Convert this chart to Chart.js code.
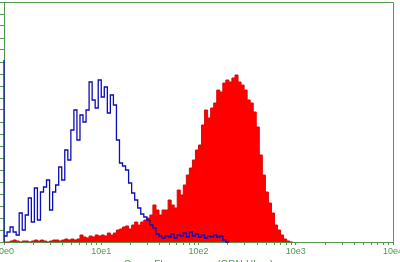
<!DOCTYPE html>
<html>
<head>
<meta charset="utf-8">
<script src="https://cdn.jsdelivr.net/npm/chart.js@4"></script>
<style>
  html, body { margin: 0; padding: 0; background: #fff; overflow: hidden; }
  #wrap { position: relative; width: 400px; height: 272px; }
</style>
</head>
<body>
<div id="wrap"><canvas id="histogram"></canvas></div>
<script>
// histogram: 8 channels per bin, 1024 channels over 4 log decades
const BIN_WIDTH = 8;
const CHANNEL_MAX = 1024;
const DECADE_LABELS = ["10e0", "10e1", "10e2", "10e3", "10e4"];
const AXIS_TITLE = "Green Fluorescence (GRN-HLog)";

// control sample (blue outline)
const controlCounts = [
  182, 6, 10, 15, 10, 7, 29, 12, 27, 44,
  20, 54, 22, 50, 55, 62, 32, 50, 57, 75,
  62, 92, 82, 112, 132, 102, 127, 120, 132, 160,
  142, 134, 162, 145, 155, 129, 147, 137, 102, 79,
  76, 72, 59, 49, 42, 34, 28, 25, 22, 17,
  14, 8, 6, 4, 6, 5, 8, 4, 7, 6,
  9, 5, 10, 6, 8, 5, 7, 4, 6, 5,
  7, 5, 6, 2,
];

// stained sample (red filled)
const stainedCounts = [
  0, 0, 0, 1, 2, 1, 0, 1, 1, 0,
  1, 2, 1, 2, 1, 0, 1, 2, 2, 1,
  2, 3, 2, 3, 2, 3, 7, 5, 4, 6,
  5, 7, 6, 7, 6, 9, 7, 9, 12, 13,
  15, 16, 13, 17, 20, 17, 20, 22, 24, 27,
  37, 32, 27, 32, 32, 42, 37, 34, 52, 47,
  57, 67, 74, 82, 92, 97, 117, 132, 124, 134,
  139, 152, 150, 159, 162, 160, 164, 167, 160, 157,
  152, 142, 139, 130, 115, 87, 67, 50, 39, 29,
  17, 12, 7, 3, 1,
];

const GREEN = "#4f9a4f";

function toSteps(counts) {
  const points = [{ x: 0, y: 0 }];
  counts.forEach((count, index) => {
    points.push({ x: index * BIN_WIDTH, y: count });
  });
  points.push({ x: counts.length * BIN_WIDTH, y: 0 });
  return points;
}

function xTickValues() {
  const values = [];
  for (let decade = 0; decade < 4; decade++) {
    for (let k = 1; k <= 9; k++) {
      values.push((decade + Math.log10(k)) * (CHANNEL_MAX / 4));
    }
  }
  values.push(CHANNEL_MAX);
  return values;
}

const framePlugin = {
  id: "frame",
  beforeDatasetsDraw(chart) {
    const { ctx, chartArea } = chart;
    ctx.save();
    ctx.strokeStyle = GREEN;
    ctx.lineWidth = 1;
    ctx.beginPath();
    ctx.moveTo(chartArea.left, chartArea.top + 0.5);
    ctx.lineTo(chartArea.right + 0.5, chartArea.top + 0.5);
    ctx.lineTo(chartArea.right + 0.5, chartArea.bottom);
    ctx.stroke();
    ctx.restore();
  },
};

new Chart(document.querySelector("#histogram"), {
  type: "line",
  data: {
    datasets: [
      {
        label: "Control",
        data: toSteps(controlCounts),
        stepped: "after",
        borderColor: "#0c0cb8",
        borderWidth: 1.3,
        pointRadius: 0,
        fill: false,
        clip: 3,
      },
      {
        label: "Stained",
        data: toSteps(stainedCounts),
        stepped: "after",
        borderColor: "#d80808",
        backgroundColor: "#ff0000",
        borderWidth: 1,
        pointRadius: 0,
        fill: "origin",
        clip: 2,
      },
    ],
  },
  options: {
    responsive: true,
    maintainAspectRatio: false,
    animation: false,
    events: [],
    layout: { padding: { top: 2, right: 7, left: 0, bottom: 0 } },
    plugins: {
      legend: { display: false },
      tooltip: { enabled: false },
    },
    scales: {
      x: {
        type: "linear",
        min: 0,
        max: CHANNEL_MAX,
        afterBuildTicks: (scale) => {
          scale.ticks = xTickValues().map((value) => ({ value }));
        },
        afterFit: (scale) => {
          scale.height = 30;
          scale.paddingLeft = 0;
          scale.paddingRight = 0;
        },
        border: { display: true, color: GREEN, width: 1 },
        grid: {
          drawOnChartArea: false,
          drawTicks: true,
          tickLength: 3,
          color: GREEN,
        },
        ticks: {
          autoSkip: false,
          maxRotation: 0,
          padding: 1,
          color: GREEN,
          font: { family: "Liberation Sans, Arial, sans-serif", size: 9 },
          callback: (value) => {
            const step = CHANNEL_MAX / 4;
            const index = Math.round(value / step);
            return Math.abs(value - index * step) < 0.01 ? DECADE_LABELS[index] : "";
          },
        },
        title: {
          display: true,
          text: AXIS_TITLE,
          color: GREEN,
          font: { family: "Liberation Sans, Arial, sans-serif", size: 10 },
          padding: { top: 0, bottom: 1 },
        },
      },
      y: {
        min: 0,
        max: 240,
        afterFit: (scale) => {
          scale.width = 4;
        },
        border: { display: true, color: GREEN, width: 1 },
        grid: {
          drawOnChartArea: false,
          drawTicks: true,
          tickLength: 4,
          color: GREEN,
        },
        ticks: { stepSize: 12, display: false },
      },
    },
  },
  plugins: [framePlugin],
});
</script>
</body>
</html>
